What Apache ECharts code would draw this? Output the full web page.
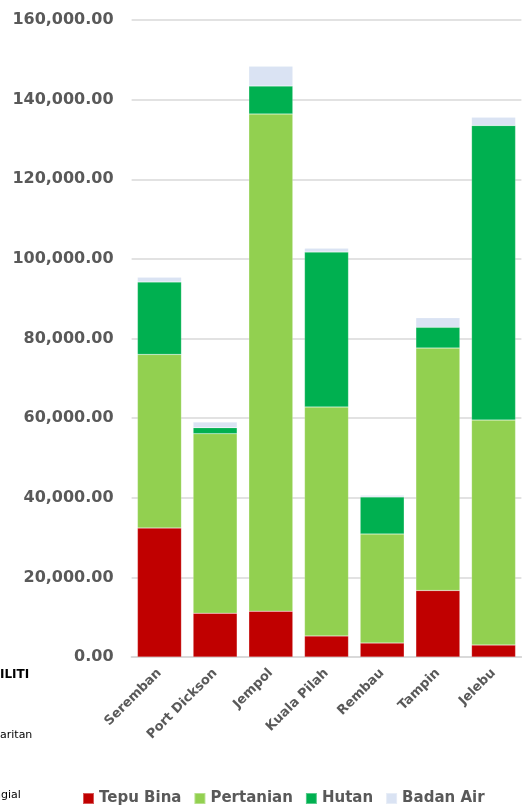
<!DOCTYPE html>
<html>
<head>
<meta charset="utf-8">
<script src="https://cdn.jsdelivr.net/npm/echarts@6/dist/echarts.min.js"></script>
<style>html,body{margin:0;padding:0;background:#fff;}#c{width:522px;height:808px;}</style>
</head>
<body>
<div id="c"></div>
<script>
var categories = ['Seremban', 'Port Dickson', 'Jempol', 'Kuala Pilah', 'Rembau', 'Tampin', 'Jelebu'];
var tepuBina  = [32400, 11000, 11500, 5300, 3500, 16700, 3000];
var pertanian = [43600, 45100, 124900, 57500, 27400, 60900, 56500];
var hutan     = [18200, 1500, 7000, 38900, 9300, 5200, 74000];
var badanAir  = [1200, 1400, 5000, 1000, 400, 2400, 2100];
var seriesNames = ['Tepu Bina', 'Pertanian', 'Hutan', 'Badan Air'];
var colors = ['#C00000', '#92D050', '#00B050', '#DAE3F3'];

var font = 'DejaVu Sans';
var chart = echarts.init(document.getElementById('c'));
function mk(name, data, color) {
  return {
    name: name, type: 'bar', stack: 'total', data: data, barWidth: 44,
    itemStyle: { color: color, borderColor: 'rgba(255,255,255,0.35)', borderWidth: 0.5 },
    emphasis: { disabled: true }
  };
}
chart.setOption({
  animation: false,
  color: colors,
  grid: { left: 131.6, right: 0.6, top: 20, bottom: 151, containLabel: false },
  xAxis: {
    type: 'category', data: categories,
    axisLine: { lineStyle: { color: '#D9D9D9', width: 2 } },
    axisTick: { show: false },
    axisLabel: { rotate: 45, interval: 0, margin: 14, color: '#595959', fontFamily: font, fontWeight: 'bold', fontSize: 13 }
  },
  yAxis: {
    type: 'value', min: 0, max: 160000, interval: 20000,
    axisLine: { show: false }, axisTick: { show: false },
    splitLine: { lineStyle: { color: '#D9D9D9', width: 1.5 } },
    axisLabel: {
      margin: 18, color: '#595959', fontFamily: font, fontWeight: 'bold', fontSize: 16,
      formatter: function (v) { return v.toLocaleString('en-US', { minimumFractionDigits: 2, maximumFractionDigits: 2 }); }
    }
  },
  legend: {
    left: 77, top: 786, itemWidth: 11, itemHeight: 11, itemGap: 12, icon: 'rect',
    textStyle: { color: '#595959', fontFamily: font, fontWeight: 'bold', fontSize: 15 },
    data: seriesNames
  },
  graphic: [
    { type: 'text', left: 0, top: 669, style: { text: 'ILITI', fill: '#000', font: 'bold 12px "DejaVu Sans"' } },
    { type: 'text', left: 0, top: 730, style: { text: 'aritan', fill: '#000', font: '11px "DejaVu Sans"' } },
    { type: 'text', left: -6, top: 790, style: { text: 'ngial', fill: '#000', font: '11px "DejaVu Sans"' } }
  ],
  series: [
    mk(seriesNames[0], tepuBina, colors[0]),
    mk(seriesNames[1], pertanian, colors[1]),
    mk(seriesNames[2], hutan, colors[2]),
    mk(seriesNames[3], badanAir, colors[3])
  ]
});
</script>
</body>
</html>
